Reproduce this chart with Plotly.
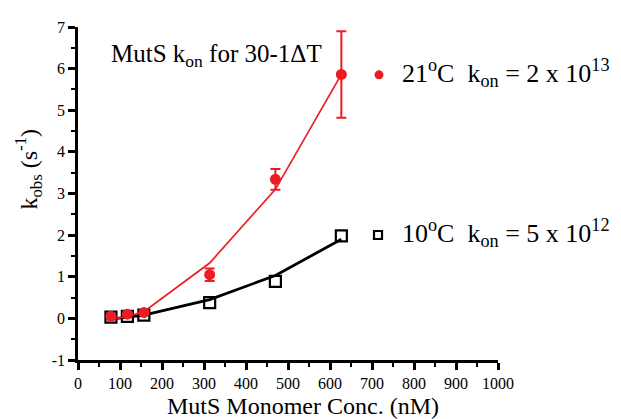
import plotly.graph_objects as go

conc_nM = [78.4, 117.6, 156.8, 313.5, 470, 627]

k21_obs = [0.05, 0.10, 0.14, 1.05, 3.34, 5.86]
k21_err = [0.04, 0.05, 0.05, 0.15, 0.25, 1.04]
k21_fit = [-0.03, 0.05, 0.16, 1.33, 3.10, 5.86]

k10_obs = [0.03, 0.05, 0.08, 0.38, 0.89, 1.98]
k10_fit = [-0.02, 0.03, 0.08, 0.45, 1.03, 1.90]

x_ticks = list(range(0, 1001, 100))
y_ticks = list(range(-1, 8))
y_labels = [str(v) for v in y_ticks]

label_21 = "21<sup>o</sup>C  k<sub>on</sub> = 2 x 10<sup>13</sup>"
label_10 = "10<sup>o</sup>C  k<sub>on</sub> = 5 x 10<sup>12</sup>"

RED = "#ec1c24"
FONT = "Liberation Serif, Times New Roman, Times, DejaVu Serif, serif"

fig = go.Figure()

# 10 C fit line and points
fig.add_trace(go.Scatter(x=conc_nM, y=k10_fit, mode="lines",
                         line=dict(color="black", width=2.8), showlegend=False, hoverinfo="skip"))
fig.add_trace(go.Scatter(x=conc_nM, y=k10_obs, mode="markers",
                         marker=dict(symbol="square-open", size=11, color="black", line=dict(width=2.2)),
                         showlegend=False, cliponaxis=False))
# 21 C fit line and points
fig.add_trace(go.Scatter(x=conc_nM, y=k21_fit, mode="lines",
                         line=dict(color=RED, width=1.7), showlegend=False, hoverinfo="skip"))
fig.add_trace(go.Scatter(x=conc_nM, y=k21_obs, mode="markers",
                         marker=dict(symbol="circle", size=11, color=RED),
                         error_y=dict(type="data", array=k21_err, color=RED, thickness=2, width=5),
                         showlegend=False, cliponaxis=False))

axis_common = dict(showline=True, linecolor="black", linewidth=2.5, ticks="outside",
                   ticklen=7, tickwidth=2.5, tickcolor="black", showgrid=False, zeroline=False,
                   tickfont=dict(family=FONT, size=16, color="black"))

# legend keys drawn as pixel-sized shapes
leg_y21, leg_y10 = 0.8563, 0.3754
shapes = [
    dict(type="circle", xref="paper", yref="paper", xsizemode="pixel", ysizemode="pixel",
         xanchor=0.7167, yanchor=leg_y21, x0=-4.5, x1=4.5, y0=-4.5, y1=4.5,
         fillcolor=RED, line=dict(color=RED, width=0)),
    dict(type="rect", xref="paper", yref="paper", xsizemode="pixel", ysizemode="pixel",
         xanchor=0.7143, yanchor=leg_y10, x0=-4, x1=4, y0=-4, y1=4,
         fillcolor="white", line=dict(color="black", width=2.2)),
]

fig.update_layout(
    width=613, height=411,
    margin=dict(l=70, r=123, t=11, b=59),
    paper_bgcolor="white", plot_bgcolor="white",
    font=dict(family=FONT, color="black"),
    showlegend=False,
    xaxis=dict(range=[0, 1000], tickvals=x_ticks,
               minor=dict(dtick=50, ticklen=4, tickwidth=2, tickcolor="black", ticks="outside"),
               **axis_common),
    yaxis=dict(range=[-1, 7], tickvals=y_ticks, ticktext=y_labels,
               minor=dict(dtick=0.5, ticklen=4, tickwidth=2, tickcolor="black", ticks="outside"),
               **axis_common),
    shapes=shapes,
    annotations=[
        dict(text=label_21, xref="paper", yref="paper",
             x=0.7667, y=leg_y21 + 0.006, xanchor="left", yanchor="middle", showarrow=False,
             font=dict(family=FONT, size=26, color="black")),
        dict(text=label_10, xref="paper", yref="paper",
             x=0.7667, y=leg_y10 + 0.006, xanchor="left", yanchor="middle", showarrow=False,
             font=dict(family=FONT, size=26, color="black")),
        dict(text="MutS k<sub>on</sub> for 30-1ΔT", xref="paper", yref="paper",
             x=0.074, y=0.915, xanchor="left", yanchor="middle", showarrow=False,
             font=dict(family=FONT, size=25, color="black")),
        dict(text="MutS Monomer Conc. (nM)", xref="paper", yref="paper",
             x=0.536, y=-0.138, xanchor="center", yanchor="middle", showarrow=False,
             font=dict(family=FONT, size=24, color="black")),
        dict(text="k<sub>obs</sub> (s<sup>-1</sup>)", xref="paper", yref="paper",
             x=-0.119, y=0.572, xanchor="center", yanchor="middle", showarrow=False, textangle=-90,
             font=dict(family=FONT, size=24, color="black")),
    ],
)

fig.write_html("out.html")
